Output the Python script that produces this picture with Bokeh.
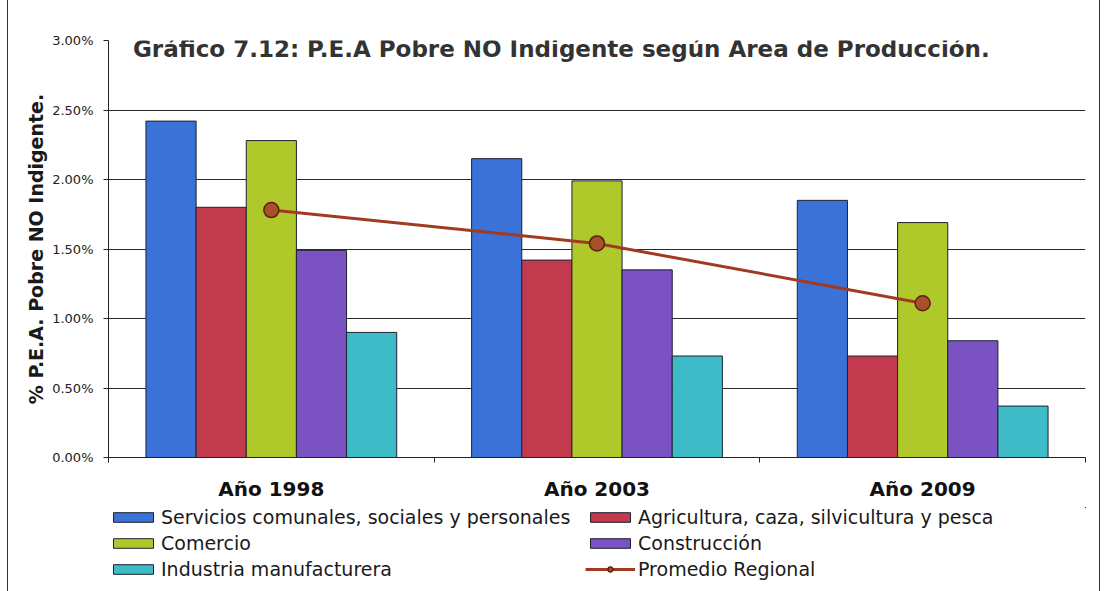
from bokeh.plotting import figure
from bokeh.layouts import column
from bokeh.models import (Range1d, LinearAxis, FixedTicker,
                          PrintfTickFormatter, Legend, LegendItem, Label, ColumnDataSource,
                          CustomJSTickFormatter)
from bokeh.transform import dodge
from bokeh.embed import file_html
from bokeh.resources import INLINE

years = ["Año 1998", "Año 2003", "Año 2009"]
servicios = [2.42, 2.15, 1.85]
agricultura = [1.80, 1.42, 0.73]
comercio = [2.28, 1.99, 1.69]
construccion = [1.49, 1.35, 0.84]
industria = [0.90, 0.73, 0.37]
promedio = [1.78, 1.54, 1.11]

series_names = ["Servicios comunales, sociales y personales",
                "Agricultura, caza, silvicultura y pesca",
                "Comercio", "Construcción", "Industria manufacturera"]
colors = ["#3A72D8", "#C23A4E", "#AFC92A", "#7A52C2", "#3DBCC8"]
line_color = "#A23A22"
marker_fill = "#A8502A"
marker_line = "#5a2010"

FONT = "DejaVu Sans"

centers = [i + 0.5 for i in range(len(years))]
src = ColumnDataSource(dict(xc=centers, s0=servicios, s1=agricultura, s2=comercio,
                            s3=construccion, s4=industria, prom=promedio))

p = figure(x_range=Range1d(0, len(years)), y_range=Range1d(0, 3.0),
           frame_width=977, frame_height=417, output_backend="svg", toolbar_location=None,
           x_axis_location=None, min_border_left=100, min_border_right=14,
           min_border_top=40, min_border_bottom=50)

bw = 0.154
offsets = [-2 * bw, -bw, 0, bw, 2 * bw]
for i in range(5):
    p.vbar(x=dodge("xc", offsets[i]), top="s%d" % i, width=bw,
           source=src, fill_color=colors[i], line_color="#1d2030", line_width=1)

p.line(x="xc", y="prom", source=src, line_color=line_color, line_width=3)
p.scatter(x="xc", y="prom", source=src, size=15, fill_color=marker_fill,
          line_color=marker_line, line_width=1.5)

# axes
p.yaxis.ticker = FixedTicker(ticks=[0, 0.5, 1.0, 1.5, 2.0, 2.5, 3.0])
p.yaxis.formatter = PrintfTickFormatter(format="%.2f%%")
p.yaxis.major_label_text_font = FONT
p.yaxis.major_label_text_font_size = "13px"
p.yaxis.major_label_text_color = "#222222"
p.yaxis.major_tick_in = 0
p.yaxis.major_tick_out = 5
p.yaxis.minor_tick_line_color = None
p.yaxis.axis_line_color = "#222222"
p.yaxis.major_tick_line_color = "#222222"
p.yaxis.major_label_standoff = 10
p.yaxis.axis_label = "% P.E.A. Pobre NO Indigente."
p.yaxis.axis_label_text_font = FONT
p.yaxis.axis_label_text_font_style = "bold"
p.yaxis.axis_label_text_font_size = "19px"
p.yaxis.axis_label_text_color = "#1a1a1a"
p.yaxis.axis_label_standoff = 2

tick_axis = LinearAxis(ticker=FixedTicker(ticks=[0, 1, 2, 3]),
                       formatter=CustomJSTickFormatter(code="return ''"),
                       major_tick_in=0, major_tick_out=5, minor_tick_line_color=None,
                       axis_line_color="#222222", major_tick_line_color="#222222",
                       major_label_text_font_size="1px", major_label_standoff=0)
p.add_layout(tick_axis, "below")
cat_axis = LinearAxis(ticker=FixedTicker(ticks=centers),
                      major_label_overrides={c: y for c, y in zip(centers, years)},
                      axis_line_color=None, major_tick_line_color=None,
                      minor_tick_line_color=None,
                      major_label_text_font=FONT, major_label_text_font_style="bold",
                      major_label_text_font_size="20px",
                      major_label_text_color="#111111", major_label_standoff=8)
p.add_layout(cat_axis, "below")

p.xgrid.grid_line_color = None
p.ygrid.grid_line_color = "#2a2a2a"
p.ygrid.grid_line_width = 1
p.outline_line_color = None

title = Label(x=0.075, y=2.94, text="Gráfico 7.12: P.E.A Pobre NO Indigente según Área de Producción.",
              text_font=FONT, text_font_style="bold", text_font_size="23px",
              text_color="#333333", text_baseline="middle", text_align="left")
p.add_layout(title)

# legend figure below the chart; its glyphs use the same data but lie outside its view
q = figure(width=1091, height=85, x_range=Range1d(-2, -1), y_range=Range1d(-2, -1),
           output_backend="svg", toolbar_location=None, x_axis_location=None,
           y_axis_location=None, min_border_left=0, min_border_right=0,
           min_border_top=0, min_border_bottom=0)
q.xgrid.visible = False
q.ygrid.visible = False
q.outline_line_color = None
leg_r = []
for i in range(5):
    leg_r.append(q.vbar(x="xc", top="s%d" % i, width=bw, source=src,
                        fill_color=colors[i], line_color="#1d2030", line_width=1))
ql = q.line(x="xc", y="prom", source=src, line_color=line_color, line_width=3)
qc = q.scatter(x="xc", y="prom", source=src, size=13, fill_color=marker_fill,
               line_color=marker_line, line_width=1.5)

items = [LegendItem(label=series_names[0], renderers=[leg_r[0]]),
         LegendItem(label=series_names[2], renderers=[leg_r[2]]),
         LegendItem(label=series_names[4], renderers=[leg_r[4]]),
         LegendItem(label=series_names[1], renderers=[leg_r[1]]),
         LegendItem(label=series_names[3], renderers=[leg_r[3]]),
         LegendItem(label="Promedio Regional", renderers=[ql, qc])]
legend = Legend(items=items, ncols=2, location=(0, 12), orientation="vertical",
                label_text_font=FONT, label_text_font_size="19px",
                label_text_color="#1a1a1a", glyph_width=50, glyph_height=12,
                label_standoff=3, spacing=4, padding=0, margin=0,
                background_fill_alpha=0, border_line_color=None,
                label_height=21, label_width=420)
q.add_layout(legend, "center")

layout = column(p, q, spacing=0,
                styles={"margin-left": "7px", "border-left": "1px solid #333",
                        "border-right": "1px solid #333"})

open("out.html", "w").write(file_html(layout, INLINE))
